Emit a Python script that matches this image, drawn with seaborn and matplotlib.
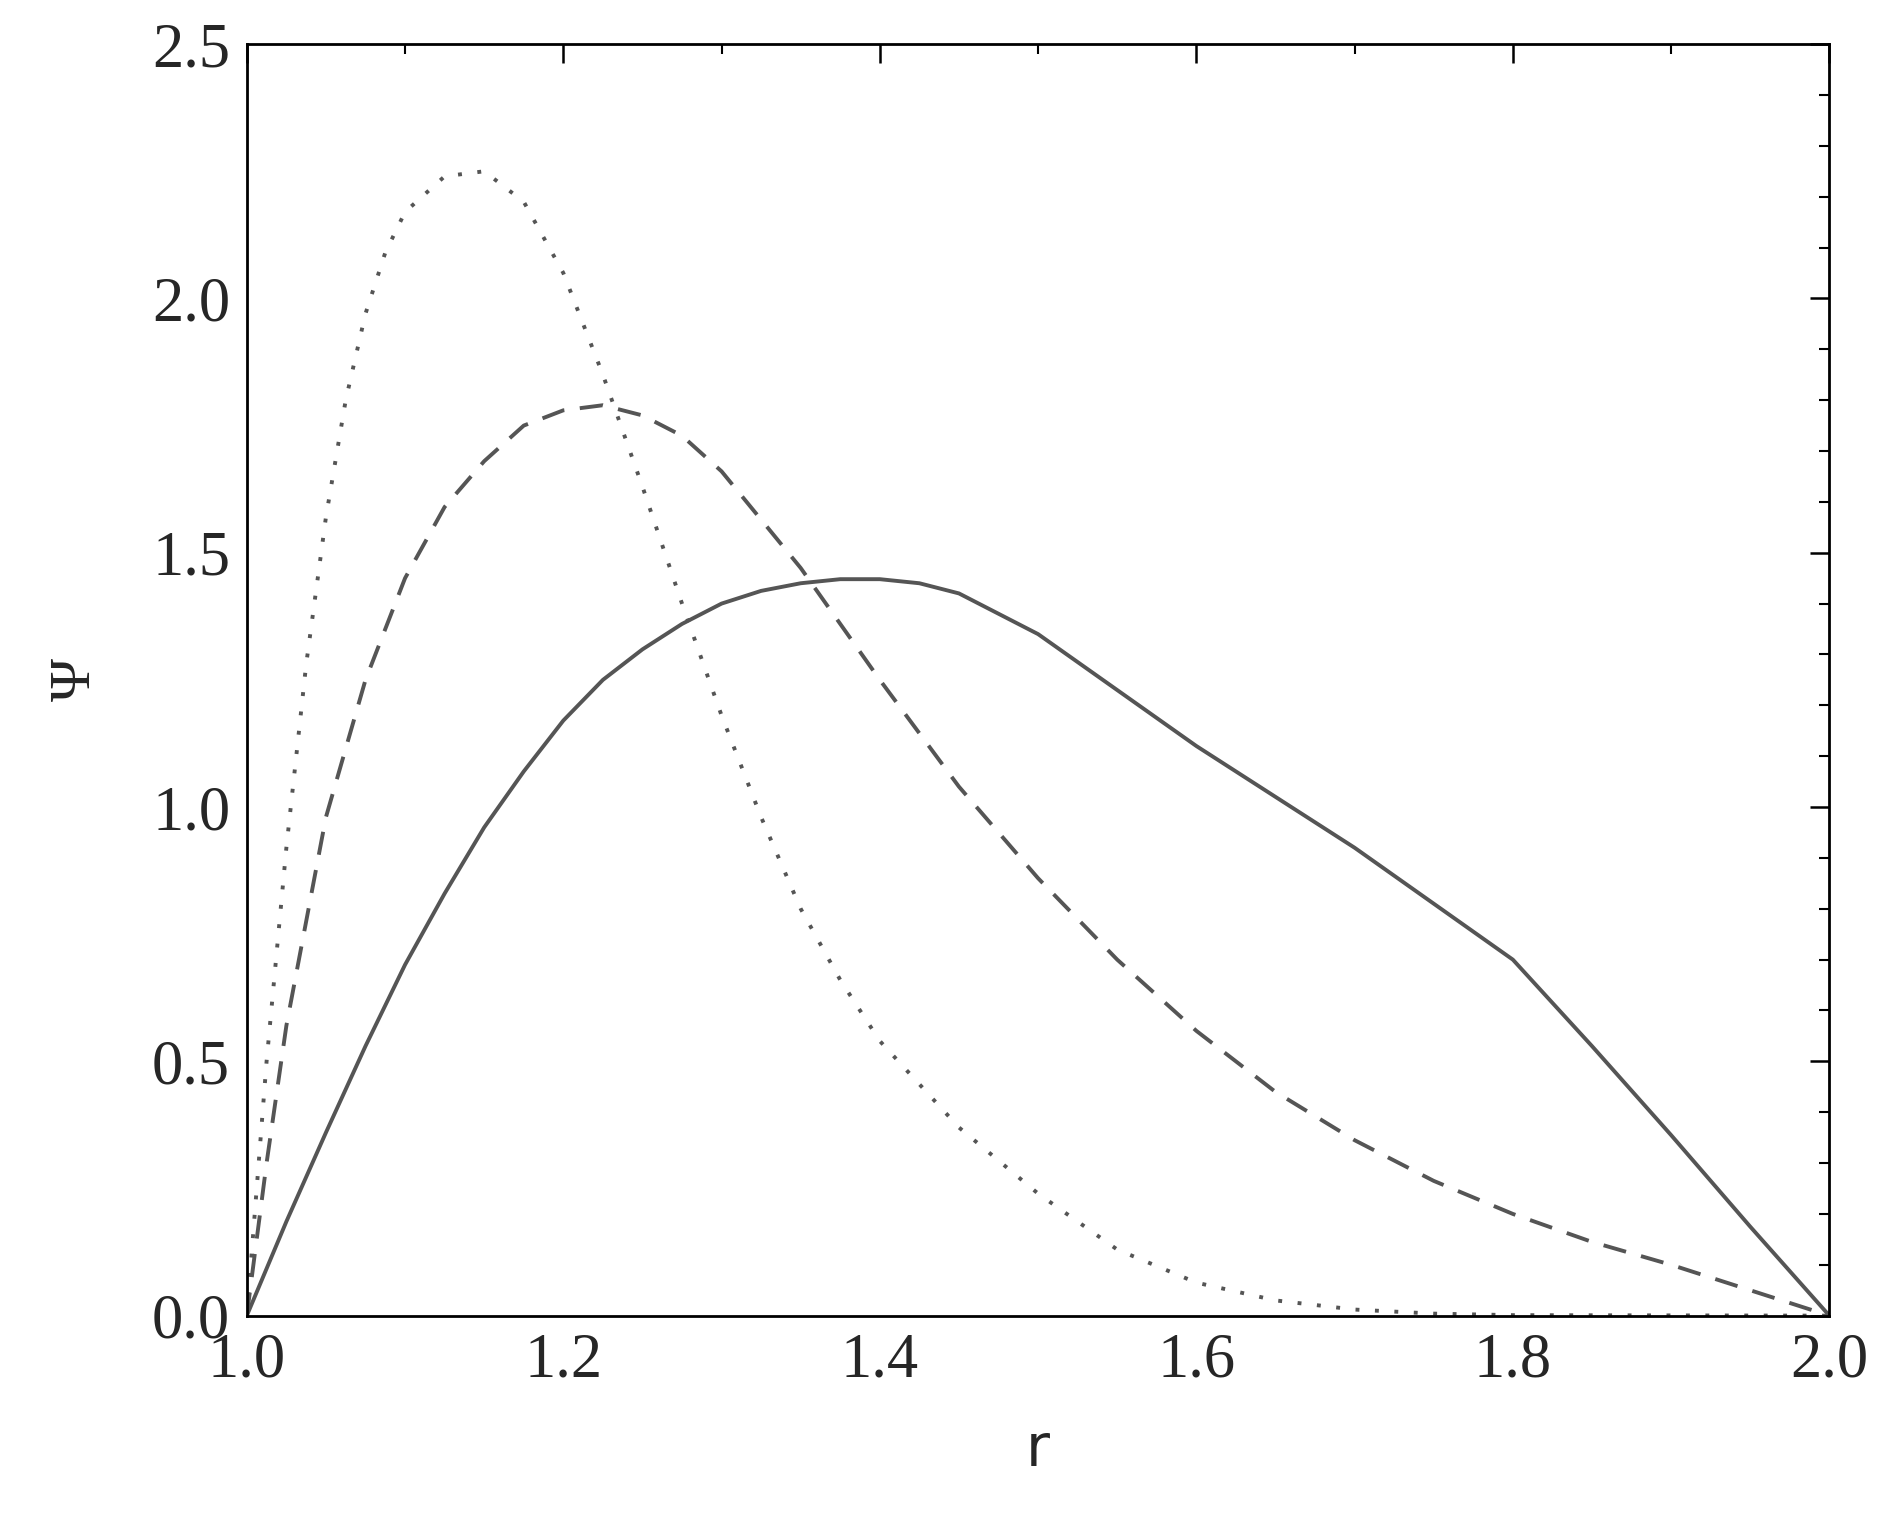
import numpy as np
import pandas as pd
import matplotlib
matplotlib.use("Agg")
import matplotlib.pyplot as plt
import seaborn as sns
from matplotlib.ticker import MultipleLocator

# values
r_solid = [1.0, 1.025, 1.05, 1.075, 1.1, 1.125, 1.15, 1.175, 1.2, 1.225, 1.25, 1.275, 1.3,
           1.325, 1.35, 1.375, 1.4, 1.425, 1.45, 1.5, 1.55, 1.6, 1.65, 1.7, 1.75, 1.8,
           1.85, 1.9, 1.95, 2.0]
psi_solid = [0.0, 0.185, 0.36, 0.53, 0.69, 0.83, 0.96, 1.07, 1.17, 1.25, 1.31, 1.36, 1.40,
             1.425, 1.44, 1.448, 1.448, 1.44, 1.42, 1.34, 1.23, 1.12, 1.02, 0.92, 0.81, 0.70,
             0.53, 0.355, 0.175, 0.0]

r_dash = [1.0, 1.0125, 1.025, 1.05, 1.075, 1.1, 1.125, 1.15, 1.175, 1.2, 1.225, 1.25, 1.275,
          1.3, 1.35, 1.4, 1.45, 1.5, 1.55, 1.6, 1.65, 1.7, 1.75, 1.8, 1.85, 1.9, 1.95, 2.0]
psi_dash = [0.0, 0.30, 0.57, 0.98, 1.25, 1.45, 1.59, 1.68, 1.75, 1.78, 1.79, 1.77, 1.73,
            1.66, 1.47, 1.25, 1.04, 0.86, 0.70, 0.56, 0.44, 0.345, 0.265, 0.20, 0.145,
            0.10, 0.05, 0.0]

r_dot = [1.0, 1.0125, 1.025, 1.0375, 1.05, 1.0625, 1.075, 1.0875, 1.1, 1.125, 1.15, 1.175,
         1.2, 1.225, 1.25, 1.275, 1.3, 1.325, 1.35, 1.375, 1.4, 1.45, 1.5, 1.55, 1.6, 1.65,
         1.7, 1.75, 1.8, 2.0]
psi_dot = [0.0, 0.50, 0.92, 1.28, 1.57, 1.80, 1.97, 2.09, 2.17, 2.24, 2.25, 2.19, 2.05,
           1.85, 1.63, 1.40, 1.18, 0.98, 0.80, 0.66, 0.54, 0.37, 0.24, 0.13, 0.065, 0.03,
           0.012, 0.004, 0.001, 0.0]

sns.set_style("white")
plt.rcParams['font.family'] = ['Liberation Serif', 'DejaVu Serif']

fig = plt.figure(figsize=(18.84, 15.21), dpi=100)
ax = fig.add_axes([0.131, 0.135, 0.84, 0.836])

col = "#555555"
sns.lineplot(x=r_solid, y=psi_solid, ax=ax, color=col, lw=2.8, linestyle='-')
sns.lineplot(x=r_dash, y=psi_dash, ax=ax, color=col, lw=2.8, linestyle=(0, (6, 4)))
sns.lineplot(x=r_dot, y=psi_dot, ax=ax, color=col, lw=2.8, linestyle=(0, (1, 4)))

ax.set_xlim(1.0, 2.0)
ax.set_ylim(0.0, 2.5)
ax.xaxis.set_major_locator(MultipleLocator(0.2))
ax.xaxis.set_minor_locator(MultipleLocator(0.1))
ax.yaxis.set_major_locator(MultipleLocator(0.5))
ax.yaxis.set_minor_locator(MultipleLocator(0.1))
ax.tick_params(which='both', direction='in', top=True, right=True, labelsize=45, color='black')
ax.tick_params(which='major', length=14, width=1.8, pad=12)
ax.tick_params(which='minor', length=7, width=1.5)
for s in ax.spines.values():
    s.set_linewidth(2)
    s.set_color('black')

ax.set_xlabel("r", fontsize=42, family='DejaVu Sans', labelpad=22)
ax.set_ylabel("Ψ", fontsize=42, family='Liberation Serif', labelpad=36)

fig.savefig("out.png", dpi=100)
